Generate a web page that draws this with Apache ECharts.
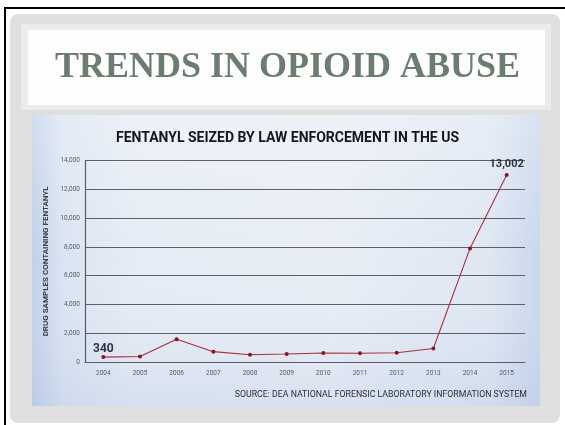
<!DOCTYPE html>
<html>
<head>
<meta charset="utf-8">
<script src="https://cdn.jsdelivr.net/npm/echarts@6/dist/echarts.min.js"></script>
<style>
  html, body { margin: 0; padding: 0; background: #ffffff; }
  #chart { width: 565px; height: 425px; }
</style>
</head>
<body>
<div id="chart"></div>
<script>
// Fentanyl samples reported by law enforcement, per year
const years = ['2004', '2005', '2006', '2007', '2008', '2009', '2010', '2011', '2012', '2013', '2014', '2015'];
const samples = [340, 380, 1580, 720, 500, 560, 630, 610, 640, 940, 7900, 13002];
const yTicks = [0, 2000, 4000, 6000, 8000, 10000, 12000, 14000];
const labelledYears = ['2004', '2015'];

const chart = echarts.init(document.getElementById('chart'), null, { renderer: 'canvas' });

const darkRed = '#8a1424';
const inkDark = '#2f3440';

chart.setOption({
  animation: false,
  backgroundColor: '#ffffff',
  graphic: [
    // slide frame lines
    { type: 'rect', shape: { x: 4, y: 7, width: 600, height: 2 }, style: { fill: '#000' }, z: 0 },
    { type: 'rect', shape: { x: 4, y: 7, width: 2, height: 430 }, style: { fill: '#000' }, z: 0 },
    // grey slide panel
    { type: 'rect', shape: { x: 10, y: 14, width: 550, height: 409, r: 8 }, style: { fill: '#dfdfdf' }, z: 0 },
    { type: 'rect', shape: { x: 21, y: 24, width: 530, height: 86 }, style: { fill: '#ebebeb' }, z: 0 },
    { type: 'rect', shape: { x: 28, y: 30, width: 517, height: 75 }, style: { fill: '#fdfdfd' }, z: 0 },
    {
      type: 'text', left: 55, top: 50, z: 2,
      style: {
        text: 'TRENDS IN OPIOID ABUSE',
        font: 'bold 36px "Liberation Serif", serif',
        fill: '#6b7d70'
      }
    },
    // chart backdrop
    {
      type: 'rect', shape: { x: 32, y: 115, width: 508, height: 291 }, z: 0,
      style: {
        fill: new echarts.graphic.LinearGradient(0, 0, 1, 0, [
          { offset: 0, color: '#b9cbe6' },
          { offset: 0.06, color: '#d6e1f0' },
          { offset: 0.2, color: '#e3eaf4' },
          { offset: 0.6, color: '#e6ecf5' },
          { offset: 0.9, color: '#dbe4f1' },
          { offset: 1, color: '#c3d2ea' }
        ])
      }
    },
    {
      type: 'rect', shape: { x: 32, y: 115, width: 508, height: 291 }, z: 0,
      style: {
        fill: new echarts.graphic.LinearGradient(0, 0, 0, 1, [
          { offset: 0, color: 'rgba(255,255,255,0.35)' },
          { offset: 0.5, color: 'rgba(255,255,255,0.1)' },
          { offset: 1, color: 'rgba(190,205,230,0.35)' }
        ])
      }
    },
    {
      type: 'text', left: 116, top: 131, z: 2,
      style: {
        text: 'FENTANYL SEIZED BY LAW ENFORCEMENT IN THE US',
        font: 'bold 14px Roboto, sans-serif',
        fill: '#15171c'
      }
    },
    {
      type: 'text', right: 38, top: 390, z: 2,
      style: {
        text: 'SOURCE: DEA NATIONAL FORENSIC LABORATORY INFORMATION SYSTEM',
        font: '8.75px Roboto, sans-serif',
        fill: '#2a2d35'
      }
    }
  ],
  grid: { left: 85, right: 40, top: 160.7, bottom: 63, containLabel: false },
  xAxis: {
    type: 'category',
    data: years,
    boundaryGap: true,
    axisLine: { show: true, lineStyle: { color: '#5a5d63', width: 1.2 } },
    axisTick: { show: false },
    axisLabel: { color: '#555a63', fontSize: 6.5, fontFamily: 'Roboto', margin: 8 }
  },
  yAxis: {
    type: 'value',
    min: yTicks[0],
    max: yTicks[yTicks.length - 1],
    interval: yTicks[1] - yTicks[0],
    name: 'DRUG SAMPLES CONTAINING FENTANYL',
    nameLocation: 'middle',
    nameGap: 34,
    nameRotate: 90,
    nameTextStyle: { color: '#3a3f4a', fontSize: 8, fontWeight: 'bold', fontFamily: 'Roboto' },
    axisLine: { show: true, lineStyle: { color: '#5a5d63', width: 1.2 } },
    axisTick: { show: false },
    splitLine: { show: true, lineStyle: { color: '#5d6066', width: 1.2 } },
    axisLabel: {
      color: '#555a63', fontSize: 6.5, fontFamily: 'Roboto', margin: 5,
      formatter: v => v.toLocaleString('en-US')
    }
  },
  series: [{
    type: 'line',
    data: samples.map((v, i) => ({
      value: v,
      label: {
        show: labelledYears.includes(years[i]),
        position: 'top',
        distance: i === 0 ? 0 : 3,
        formatter: p => p.value.toLocaleString('en-US'),
        fontSize: i === 0 ? 12 : 11,
        fontWeight: 'bold',
        fontFamily: 'Roboto',
        color: inkDark
      }
    })),
    symbol: 'circle',
    symbolSize: 4,
    lineStyle: { color: '#a5303e', width: 1.1 },
    itemStyle: { color: darkRed },
    z: 5
  }]
});
</script>
</body>
</html>
